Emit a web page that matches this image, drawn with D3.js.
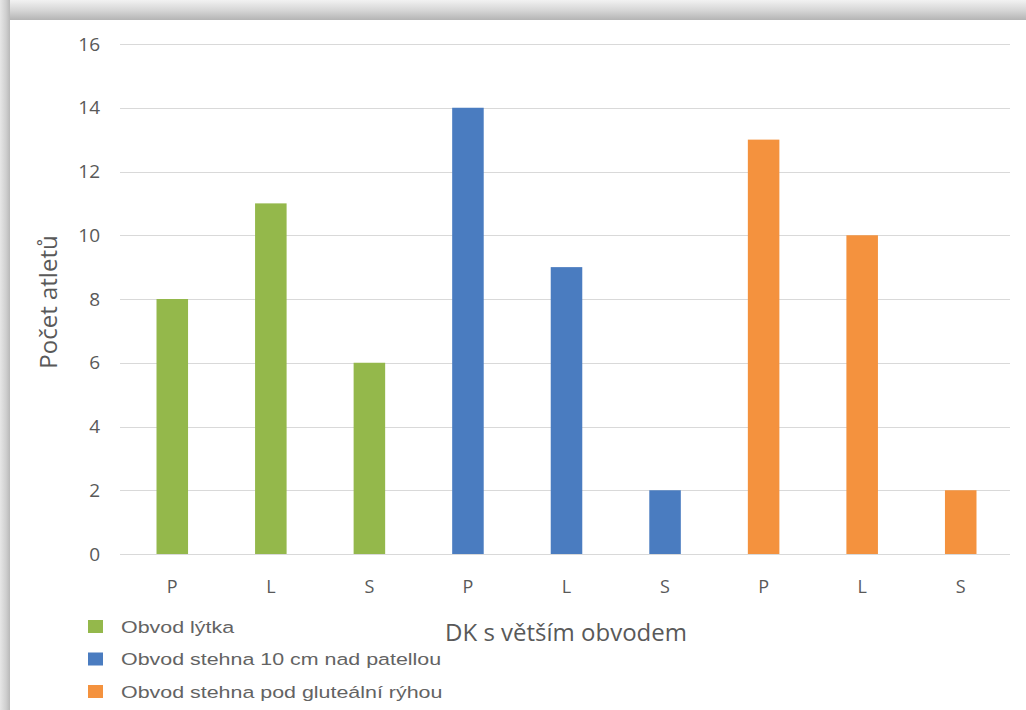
<!DOCTYPE html>
<html>
<head>
<meta charset="utf-8">
<script src="https://cdn.jsdelivr.net/npm/d3@7"></script>
<style>
  html, body { margin: 0; padding: 0; background: #fff; }
  svg { display: block; }
</style>
</head>
<body>
<svg id="chart" width="1026" height="710"></svg>
<script>
// Data: number of athletes whose larger-circumference leg is P / L / S, per measurement
const categories = ["P", "L", "S"];
const seriesNames = [
  "Obvod lýtka",
  "Obvod stehna 10 cm nad patellou",
  "Obvod stehna pod gluteální rýhou"
];
const calfValues = [8, 11, 6];
const thighPatellaValues = [14, 9, 2];
const thighGlutealValues = [13, 10, 2];
const yTicks = [0, 2, 4, 6, 8, 10, 12, 14, 16];
const colors = ["#94b84b", "#4a7cc0", "#f4923e"];

const seriesValues = [calfValues, thighPatellaValues, thighGlutealValues];
const bars = [];
seriesValues.forEach((vals, s) => {
  vals.forEach((v, c) => bars.push({ key: s + "-" + c, series: s, cat: categories[c], value: v }));
});

const svg = d3.select("#chart");

// Frame shading along the top and left edges
const defs = svg.append("defs");
const gTop = defs.append("linearGradient").attr("id", "topShade").attr("x1", 0).attr("y1", 0).attr("x2", 0).attr("y2", 1);
gTop.append("stop").attr("offset", "0%").attr("stop-color", "#f2f2f2");
gTop.append("stop").attr("offset", "55%").attr("stop-color", "#d4d4d4");
gTop.append("stop").attr("offset", "100%").attr("stop-color", "#b4b4b4");
const gLeft = defs.append("linearGradient").attr("id", "leftShade").attr("x1", 0).attr("y1", 0).attr("x2", 1).attr("y2", 0);
gLeft.append("stop").attr("offset", "0%").attr("stop-color", "#e6e6e6");
gLeft.append("stop").attr("offset", "60%").attr("stop-color", "#cfcfcf");
gLeft.append("stop").attr("offset", "100%").attr("stop-color", "#b8b8b8");

svg.append("rect").attr("x", 0).attr("y", 0).attr("width", 1026).attr("height", 20).attr("fill", "url(#topShade)");
svg.append("rect").attr("x", 0).attr("y", 0).attr("width", 10).attr("height", 710).attr("fill", "url(#leftShade)");

const x = d3.scaleBand()
  .domain(bars.map(d => d.key))
  .range([123, 1010])
  .paddingInner(0.68)
  .paddingOuter(0.34);

const y = d3.scaleLinear().domain([0, 16]).range([554, 44]);

// Horizontal gridlines
svg.append("g")
  .selectAll("line")
  .data(yTicks)
  .join("line")
  .attr("x1", 120).attr("x2", 1010)
  .attr("y1", d => Math.round(y(d)) + 0.5).attr("y2", d => Math.round(y(d)) + 0.5)
  .attr("stroke", "#d9d9d9").attr("stroke-width", 1.2);

// Y axis tick labels
const yAxis = d3.axisLeft(y).tickValues(yTicks).tickSize(0).tickPadding(0);
const yg = svg.append("g").attr("transform", "translate(100,0)").call(yAxis);
yg.select(".domain").remove();
yg.selectAll("text")
  .attr("font-family", "'Open Sans', sans-serif")
  .attr("font-size", 19)
  .attr("fill", "#595959");

// X axis category labels
const xAxis = d3.axisBottom(x).tickSize(0).tickPadding(0).tickFormat(k => bars.find(b => b.key === k).cat);
const xg = svg.append("g").attr("transform", "translate(0,580)").call(xAxis);
xg.select(".domain").remove();
xg.selectAll("text")
  .attr("font-family", "'Open Sans', sans-serif")
  .attr("font-size", 18)
  .attr("fill", "#595959");

// Bars
svg.append("g")
  .selectAll("rect")
  .data(bars)
  .join("rect")
  .attr("x", d => x(d.key))
  .attr("width", x.bandwidth())
  .attr("y", d => y(d.value))
  .attr("height", d => y(0) - y(d.value))
  .attr("fill", d => colors[d.series]);

// Axis titles
svg.append("text")
  .attr("x", 566).attr("y", 641)
  .attr("text-anchor", "middle")
  .attr("font-family", "'Open Sans', sans-serif")
  .attr("font-size", 24)
  .attr("fill", "#595959")
  .text("DK s větším obvodem");

svg.append("text")
  .attr("transform", "translate(57,302) rotate(-90)")
  .attr("text-anchor", "middle")
  .attr("font-family", "'Open Sans', sans-serif")
  .attr("font-size", 24)
  .attr("fill", "#595959")
  .text("Počet atletů");

// Legend
const legend = svg.append("g").selectAll("g")
  .data(seriesNames)
  .join("g")
  .attr("transform", (d, i) => `translate(88,${627 + i * 32.5})`);
legend.append("rect")
  .attr("x", 0).attr("y", -7).attr("width", 15).attr("height", 13)
  .attr("fill", (d, i) => colors[i]);
legend.append("text")
  .attr("transform", "translate(33,0) scale(1.26,1)")
  .attr("dy", "0.35em")
  .attr("font-family", "'Liberation Sans', Arial, sans-serif")
  .attr("font-size", 17)
  .attr("fill", "#636363")
  .text(d => d);
</script>
</body>
</html>
